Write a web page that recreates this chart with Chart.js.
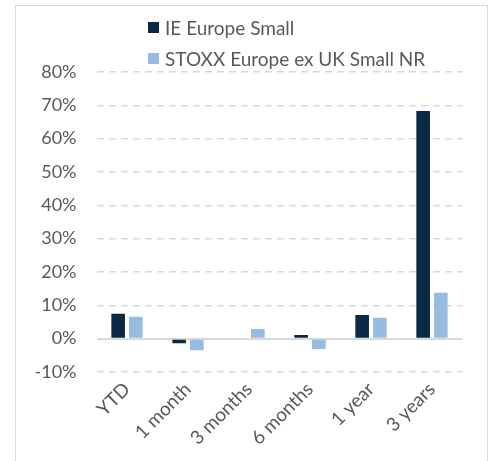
<!DOCTYPE html>
<html><head><meta charset="utf-8">
<script src="https://cdn.jsdelivr.net/npm/chart.js@4/dist/chart.umd.min.js"></script>
<style>
html,body{margin:0;padding:0;background:#fff;overflow:hidden;}
#wrap{position:absolute;left:0;top:0;width:493px;height:461px;}
#frame{position:absolute;left:15px;top:5px;width:473px;height:470px;border:1px solid #d9d9d9;box-sizing:border-box;}
#legend{position:absolute;left:148px;top:12px;font-family:Lato,"Open Sans",sans-serif;font-size:19px;color:#595959;}
.li{display:flex;align-items:center;height:31px;}
.sw{width:11px;height:11px;margin-right:6px;}
canvas{position:absolute;left:0;top:0;}
</style></head>
<body>
<div id="wrap">
<div id="frame"></div>
<canvas id="c" width="493" height="461"></canvas>
<div id="legend"></div>
</div>
<script>
const categories = ["YTD","1 month","3 months","6 months","1 year","3 years"];
const seriesNames = ["IE Europe Small","STOXX Europe ex UK Small NR"];
const ieEuropeSmall = [7.5, -1.4, 0.0, 1.1, 7.1, 68.3];
const stoxxEuropeExUkSmallNR = [6.6, -3.5, 2.9, -3.1, 6.3, 13.8];
const yTicks = [-10,0,10,20,30,40,50,60,70,80];
const colors = ["#0b2946","#95bde2"];

const legend = document.getElementById('legend');
seriesNames.forEach((n,i)=>{
  const d=document.createElement('div');d.className='li';
  const s=document.createElement('span');s.className='sw';s.style.background=colors[i];
  const t=document.createElement('span');t.textContent=n;
  d.appendChild(s);d.appendChild(t);legend.appendChild(d);
});

const YFONT = {family:'Lato, "Open Sans", sans-serif', size:18};
const XFONT = {family:'Lato, "Open Sans", sans-serif', size:19};
new Chart(document.getElementById('c'),{
  type:'bar',
  data:{labels:categories,datasets:[
    {label:seriesNames[0],data:ieEuropeSmall,backgroundColor:colors[0],categoryPercentage:0.58,barPercentage:0.77},
    {label:seriesNames[1],data:stoxxEuropeExUkSmallNR,backgroundColor:colors[1],categoryPercentage:0.58,barPercentage:0.77}
  ]},
  options:{
    responsive:false,animation:false,
    layout:{padding:{left:0,right:30.5,top:72,bottom:0}},
    plugins:{legend:{display:false},tooltip:{enabled:false}},
    scales:{
      x:{
        grid:{display:false,drawTicks:false},
        border:{display:false},
        ticks:{color:'#595959',font:XFONT,maxRotation:45,minRotation:45,padding:6,autoSkip:false},
        afterFit:(s)=>{s.height=461-372;}
      },
      y:{
        min:-10,max:80,
        afterBuildTicks:(s)=>{s.ticks=yTicks.map(v=>({value:v}));},
        grid:{
          color:(ctx)=>'#d9d9d9',
          lineWidth:(ctx)=>ctx.tick && ctx.tick.value===0?2:1.5,
          drawTicks:false
        },
        border:{display:false,dash:(ctx)=>ctx.tick && ctx.tick.value===0?[]:[7,5]},
        ticks:{color:'#595959',font:YFONT,padding:20,callback:(v)=>v+'%'},
        afterFit:(s)=>{s.width=96.5;}
      }
    }
  }
});
</script>
</body></html>
